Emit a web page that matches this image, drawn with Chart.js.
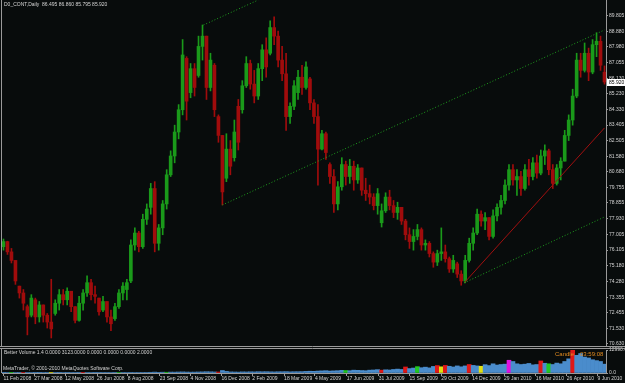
<!DOCTYPE html>
<html><head><meta charset="utf-8">
<script src="https://cdn.jsdelivr.net/npm/chart.js@4.4.1/dist/chart.umd.min.js"></script>
<style>
html,body{margin:0;padding:0;background:#080c0c;width:625px;height:383px;overflow:hidden}
#w{position:relative;width:625px;height:383px}
#c1{position:absolute;left:0;top:0}
#c2{position:absolute;left:0;top:346px}
</style></head><body><div id="w"><canvas id="c1" width="625" height="346"></canvas><canvas id="c2" width="625" height="37"></canvas></div>
<script>
const titleText = 'D0_CONT,Daily  86.495 86.860 85.795 85.920';
const volTitle = 'Better Volume 1.4 0.0000 3123.0000 0.0000 0.0000 0.0000 2.0000';
const copyright = 'MetaTrader, \u00A9 2001-2010 MetaQuotes Software Corp.';
const candleLabel = 'Candle';
const candleTimer = '03:59:08';

const opens = [76.3,76.6,76.0,75.5,74.0,73.6,72.8,72.3,73.2,72.2,72.9,72.3,71.9,72.4,73.0,73.5,73.2,73.7,72.8,72.0,
73.0,73.6,74.2,73.5,73.3,72.6,73.1,72.2,72.1,72.8,73.6,73.8,74.3,76.4,77.1,76.3,77.9,78.6,79.7,76.5,
77.4,78.8,80.5,81.6,83.0,84.3,87.3,85.3,86.7,86.3,88.0,88.6,85.6,86.9,83.9,82.8,80.3,82.0,81.5,84.5,
84.3,85.7,87.0,85.8,85.1,86.7,87.8,87.6,89.1,88.6,87.2,86.4,83.9,84.5,85.3,86.2,85.6,86.1,84.7,83.9,
82.0,82.9,81.1,80.4,78.8,79.8,81.1,80.4,81.0,80.2,80.9,79.6,79.4,79.2,78.7,77.7,78.4,79.2,78.7,78.3,
78.6,77.8,77.0,76.6,76.9,77.3,76.4,76.5,75.9,75.4,75.9,76.0,75.6,75.0,75.3,74.7,74.3,75.5,76.5,77.1,
78.2,77.8,78.0,76.9,78.1,78.6,79.0,79.9,80.8,80.2,80.4,79.7,80.8,80.4,81.2,80.6,81.6,81.9,80.8,80.0,
80.9,81.3,82.8,83.7,85.1,87.2,86.6,87.6,86.5,88.1,88.3,86.495];
const highs = [76.75,76.62,76.2,75.5,74.0,73.8,72.9,73.5,73.3,73.1,72.9,72.4,74.4,73.2,73.8,73.8,73.9,73.7,72.8,73.4,
73.8,74.6,74.4,74.0,73.3,73.4,73.1,72.6,73.0,73.8,74.2,74.4,76.7,77.4,77.2,78.2,78.8,80.0,80.1,77.6,
79.0,80.8,81.9,83.4,84.6,88.4,87.4,87.0,87.0,88.6,89.25,88.6,87.6,87.0,84.0,82.8,82.9,82.5,83.7,84.9,
86.0,87.4,87.2,86.6,87.0,88.1,88.5,89.5,89.72,88.9,88.0,87.6,84.7,86.0,86.6,86.9,87.1,86.2,84.9,84.6,
83.1,83.0,81.2,80.8,80.1,81.5,81.3,81.4,81.3,81.1,80.9,80.3,79.9,79.4,79.7,78.8,79.45,79.6,79.0,78.9,
78.6,77.9,77.4,77.3,77.6,77.4,76.7,76.6,76.0,76.1,77.4,76.4,75.7,75.8,75.4,74.9,75.8,76.8,77.4,78.5,
78.4,78.3,78.0,78.45,78.8,79.3,80.2,81.1,81.1,80.8,80.7,81.1,81.4,81.5,81.65,81.95,82.25,82.0,81.1,81.1,
81.5,83.1,84.0,85.5,87.6,87.6,88.2,87.9,88.4,88.8,88.6,86.86];
const lows = [76.1,75.85,75.35,74.1,73.3,72.6,71.15,72.2,71.8,71.9,71.9,71.55,70.97,72.3,72.6,72.9,72.9,72.5,71.85,71.95,
72.6,73.4,73.2,73.0,72.3,72.5,71.9,71.4,72.0,72.7,73.2,73.2,74.2,76.1,76.0,76.2,77.6,78.2,76.0,76.1,
77.0,78.5,80.4,81.2,82.6,84.0,83.7,85.0,85.1,86.2,87.2,84.9,85.4,83.9,82.4,78.74,80.1,80.5,81.3,81.95,
84.1,85.6,85.5,84.7,84.9,86.0,86.2,87.5,88.1,86.8,86.0,83.1,83.5,84.3,84.9,85.2,85.5,84.3,83.5,79.9,
81.95,81.4,80.0,78.3,78.45,79.6,79.9,80.0,79.6,80.0,79.3,79.0,78.8,78.45,78.2,77.45,78.3,78.45,78.0,77.9,
77.6,76.7,76.2,76.1,76.7,76.1,76.1,75.7,75.1,75.2,75.5,75.4,74.8,74.8,74.5,74.05,74.19,75.4,76.1,77.0,
77.5,77.3,76.7,76.8,77.8,78.2,78.8,79.6,79.9,79.3,79.3,79.6,79.9,80.2,80.3,80.5,81.1,80.5,79.7,79.9,
80.2,81.3,82.5,83.4,85.0,86.2,86.5,86.0,86.4,87.4,86.6,85.795];
const closes = [76.6,76.0,75.5,74.3,73.6,73.0,72.2,73.3,72.2,72.9,72.3,71.9,71.5,73.0,73.5,73.2,73.7,72.8,72.0,73.0,
73.6,74.2,73.5,73.4,72.5,73.1,72.2,71.8,72.8,73.6,74.0,74.2,76.4,77.1,76.3,77.9,78.5,79.7,76.5,77.4,
78.8,80.5,81.6,83.0,84.3,87.5,84.8,86.7,85.6,88.0,88.6,85.6,87.2,84.3,82.8,79.5,82.0,81.0,83.0,82.4,
85.7,87.0,85.8,85.1,86.7,87.8,86.8,89.1,88.6,87.2,86.4,83.9,84.5,85.7,86.2,85.6,86.8,84.7,83.9,82.0,
82.9,81.8,80.4,78.8,79.8,81.1,80.4,81.0,80.2,80.9,79.6,79.4,79.2,78.7,79.4,78.4,79.2,78.7,78.3,78.6,
77.8,77.0,76.6,76.9,77.3,76.4,76.5,75.9,75.4,75.9,76.0,75.6,75.0,75.5,74.7,74.3,75.5,76.5,77.1,78.2,
77.8,78.0,76.9,78.1,78.6,79.0,79.9,80.8,80.2,80.4,79.7,80.8,80.4,81.2,80.6,81.6,81.9,80.8,80.0,80.9,
81.3,82.8,83.7,85.1,87.2,86.6,87.6,86.5,88.1,88.3,86.9,85.92];

const volumes = [200,250,180,300,220,260,240,300,210,190,260,230,350,240,200,280,220,260,300,210,230,250,270,220,240,300,260,280,230,250,260,290,320,280,300,310,330,
400,500,380,450,420,500,480,550,600,520,480,500,560,620,700,650,580,550,1400,900,600,550,500,620,580,650,600,700,680,720,650,600,680,700,750,640,700,720,760,
900,1000,950,1100,1200,1300,1100,1200,1300,1500,1400,1300,1600,1500,1400,1300,1600,1700,1900,1600,1800,1700,2000,2200,2000,
3400,2500,2800,3600,3000,3300,2900,3700,4200,3500,4300,3800,3400,4000,3500,4000,4800,
4300,4000,3800,4700,4200,5200,4500,4800,5000,7200,6500,5200,4800,5000,5400,4600,4800,6800,5500,5200,4800,5600,5200,
6500,8000,12990,10000,11000,9000,8500,7500,7000,6500,5000];
const volumeKinds = 'bbgbbrbbbbbbybbbbbbbrbbbbbbbbgbbbbbbb' +
  'bbbbgbbbbbbbbbbbbrbbbbbbbbbbbbbbbbbbbbb' +
  'bbbbbbbbbbgbbbbbbbbrbbbbb' +
  'rbbgbbbbryrbbbbbr' +
  'bbybbbbbbmbbbbbbbrbgbbb' +
  'bbrbbbbbbbb';

const priceTicks = [89.805,88.880,87.980,87.055,86.130,85.230,84.330,83.405,82.505,81.580,80.680,79.755,78.855,77.930,77.005,76.105,75.180,74.280,73.355,72.455,71.530,70.630];
const dateLabels = ['11 Feb 2008','27 Mar 2008','12 May 2008','26 Jun 2008','8 Aug 2008','23 Sep 2008','4 Nov 2008','16 Dec 2008','2 Feb 2009','18 Mar 2009','4 May 2009','17 Jun 2009','31 Jul 2009','15 Sep 2009','29 Oct 2009','14 Dec 2009','29 Jan 2010','16 Mar 2010','26 Apr 2010','9 Jun 2010'];
const dateIdx = [0,31,62,94,125,157,188,219,250,282,313,345,377,408,440,471,503,535,566,597];

// trend lines (bar index, price)
const channelUpper = [[201,89.25],[256,90.71]];
const channelLower = [[220,78.74],[604,88.96]];
const supportRed = [[463,74.19],[604,83.24]];
const supportGreen = [[463,74.19],[604,78.04]];

const STEP = 4;
const dayIndex = opens.map((_, i) => i * STEP);

const UP = '#1a9a1a', DOWN = '#a00c0c';
const candleColors = opens.map((o, i) => closes[i] >= o ? UP : DOWN);
const volPalette = {b:'#4a8ccc', r:'#e01818', g:'#22c822', y:'#e0e010', m:'#e010e0', w:'#e0e0e0'};
const volColors = volumeKinds.split('').map(k => volPalette[k]);

const FONT = 'Liberation Sans, Arial, sans-serif';
const TXT = '#d4d4d4';
const AX = '#9a9a9a';

const toLine = arr => arr.map(p => ({x:p[0], y:p[1]}));
const lineDs = (arr, color, dash) => ({type:'line', data: toLine(arr), borderColor: color, borderWidth: 1, borderDash: dash, pointRadius: 0, fill:false, order: 0});

const overlay1 = {
  id:'overlay1',
  afterDraw(chart){
    const ctx = chart.ctx, a = chart.chartArea, ys = chart.scales.y;
    ctx.save();
    ctx.strokeStyle = AX; ctx.lineWidth = 1;
    ctx.beginPath(); ctx.moveTo(a.left - 0.5, 0); ctx.lineTo(a.left - 0.5, chart.height); ctx.stroke();
    ctx.font = '5px ' + FONT; ctx.fillStyle = TXT; ctx.textBaseline = 'middle';
    ctx.fillText(titleText, 4, 5);
    const last = closes[closes.length - 1];
    const py = Math.round(ys.getPixelForValue(last));
    ctx.fillStyle = '#ffffff';
    ctx.fillRect(a.right + 1, py - 3, chart.width - a.right - 1, 7);
    ctx.fillStyle = '#000000';
    ctx.fillText(last.toFixed(3), a.right + 3, py + 0.5);
    ctx.restore();
  }
};

new Chart(document.getElementById('c1'), {
  type:'bar',
  data:{datasets:[
    lineDs(channelUpper, '#1f9f1f', [1,2]),
    lineDs(channelLower, '#1f9f1f', [1,2]),
    lineDs(supportGreen, '#1f9f1f', [1,2]),
    lineDs(supportRed, '#a01010', []),
    {type:'bar', data: dayIndex.map((d,i)=>({x:d, y:[lows[i], highs[i]]})), backgroundColor: candleColors, barThickness:1, grouped:false, borderWidth:0, order:2},
    {type:'bar', data: dayIndex.map((d,i)=>({x:d, y:[opens[i], closes[i]]})), backgroundColor: candleColors, barThickness:3, grouped:false, borderWidth:0, order:1}
  ]},
  options:{
    responsive:false, animation:false, devicePixelRatio:1,
    layout:{padding:{left:2, right:0, top:0, bottom:1}},
    plugins:{legend:{display:false}, tooltip:{enabled:false}},
    scales:{
      x:{type:'linear', min:-1.5, max:605.5, offset:false, display:false},
      y:{position:'right', min:70.56, max:90.71,
        afterBuildTicks: s => { s.ticks = priceTicks.map(v => ({value:v})); },
        afterFit: s => { s.width = 19; s.paddingTop = 0; s.paddingBottom = 0; },
        ticks:{autoSkip:false, font:{size:5, family:FONT}, color:TXT, padding:1, callback: v => Number(v).toFixed(3)},
        grid:{drawOnChartArea:false, color:AX, tickLength:2},
        border:{color:AX}
      }
    }
  },
  plugins:[overlay1]
});

const overlay2 = {
  id:'overlay2',
  afterDraw(chart){
    const ctx = chart.ctx, a = chart.chartArea;
    ctx.save();
    ctx.strokeStyle = AX; ctx.lineWidth = 1;
    ctx.beginPath();
    ctx.moveTo(0, 0.5); ctx.lineTo(chart.width, 0.5);
    ctx.moveTo(0, 2.5); ctx.lineTo(chart.width, 2.5);
    ctx.moveTo(a.left - 0.5, 2); ctx.lineTo(a.left - 0.5, a.bottom);
    ctx.stroke();
    ctx.font = '5px ' + FONT; ctx.fillStyle = TXT; ctx.textBaseline = 'middle';
    ctx.fillText(volTitle, 4, 7);
    ctx.fillText(copyright, 3, 23);
    ctx.font = '6px ' + FONT; ctx.fillStyle = '#e08a20';
    ctx.fillText(candleLabel, 555, 8);
    ctx.fillText(candleTimer, 580, 8);
    ctx.restore();
  }
};

new Chart(document.getElementById('c2'), {
  type:'bar',
  data:{datasets:[
    {data: dayIndex.map((d,i)=>({x:d, y:volumes[i]})), backgroundColor: volColors, barThickness:4, grouped:false, borderWidth:0}
  ]},
  options:{
    responsive:false, animation:false, devicePixelRatio:1,
    layout:{padding:{left:2, right:0, top:4, bottom:0}},
    plugins:{legend:{display:false}, tooltip:{enabled:false}},
    scales:{
      x:{type:'linear', min:-1.5, max:605.5, offset:false,
        afterBuildTicks: s => { s.ticks = dateIdx.map(v => ({value:v})); },
        afterFit: s => { s.height = 10; s.paddingLeft = 0; s.paddingRight = 0; },
        ticks:{autoSkip:false, maxRotation:0, minRotation:0, align:'start', padding:0, font:{size:5, family:FONT}, color:TXT, callback:(v,i)=>dateLabels[i]},
        grid:{drawOnChartArea:false, offset:false, color:AX, tickLength:3},
        border:{color:AX}
      },
      y:{position:'right', min:0, max:12990.6,
        afterBuildTicks: s => { s.ticks = [{value:0},{value:12990.6}]; },
        afterFit: s => { s.width = 19; s.paddingTop = 0; s.paddingBottom = 0; },
        ticks:{autoSkip:false, font:{size:5, family:FONT}, color:TXT, padding:1, callback: v => Number(v).toFixed(1)},
        grid:{drawOnChartArea:false, color:AX, tickLength:2},
        border:{color:AX}
      }
    }
  },
  plugins:[overlay2]
});
</script></body></html>
